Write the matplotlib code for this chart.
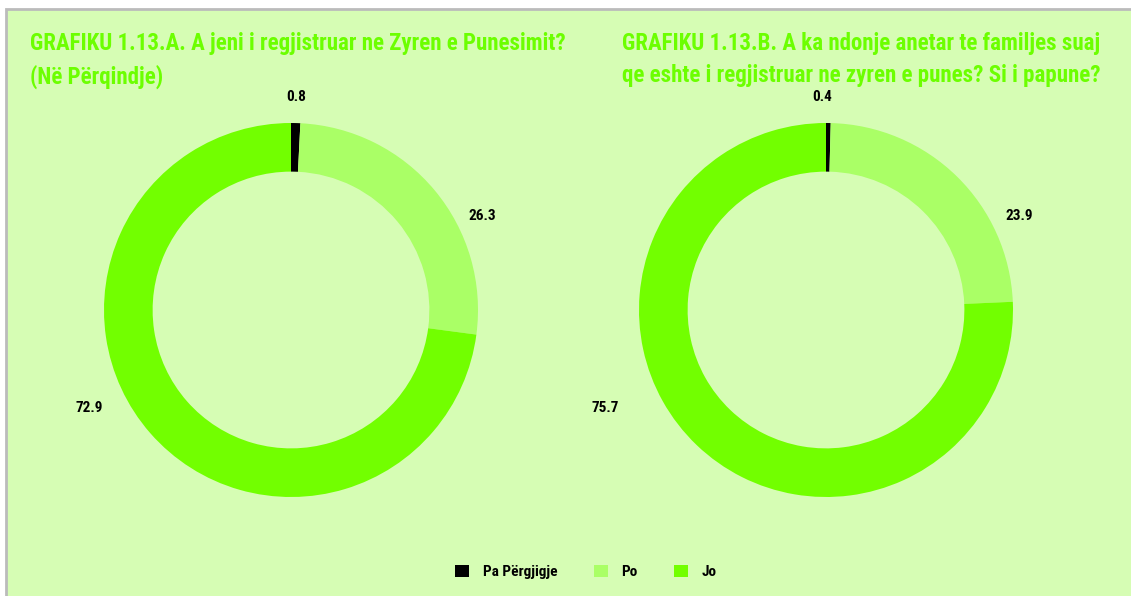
import numpy as np
import matplotlib.pyplot as plt
from matplotlib.patches import Rectangle

# te dhenat
categories = ['Pa Përgjigje', 'Po', 'Jo']
colors = ['#000000', '#AAFF66', '#72FF00']
values_a = [0.8, 26.3, 72.9]
values_b = [0.4, 23.9, 75.7]
title_a = 'GRAFIKU 1.13.A. A jeni i regjistruar ne Zyren e Punesimit?\n(Në Përqindje)'
title_b = 'GRAFIKU 1.13.B. A ka ndonje anetar te familjes suaj\nqe eshte i regjistruar ne zyren e punes? Si i papune?'

# kendet e etiketave (si ne Excel)
label_ang_a = [88.5, 26.3, -154.2]
label_rad_a = [1.14, 1.14, 1.20]
label_ang_b = [91.0, 26.0, -156.0]
label_rad_b = [1.14, 1.15, 1.29]

font = ['Roboto Condensed', 'DejaVu Sans']
bg = '#D6FDB4'
W, H = 1131, 596

fig = plt.figure(figsize=(W / 100, H / 100), dpi=100)
fig.patch.set_facecolor('white')
fig.patches.append(Rectangle((6 / W, -0.05), 1.1, (H - 9) / H + 0.05, transform=fig.transFigure,
                             facecolor=bg, edgecolor='#BBBBBB', linewidth=2, zorder=-10))

R = 187.0      # rrezja ne piksel
half = 250.0


def donut(cx, cy, values, ang, rad):
    ax = fig.add_axes([(cx - half) / W, (H - cy - half) / H, 2 * half / W, 2 * half / H])
    ax.set_facecolor('none')
    wedges, _ = ax.pie(values, colors=colors, startangle=90, counterclock=False, radius=1.0,
                       wedgeprops=dict(width=0.26, linewidth=0))
    lim = half / R
    ax.set_xlim(-lim, lim)
    ax.set_ylim(-lim, lim)
    ax.set_aspect('equal')
    ax.axis('off')
    for v, a, r in zip(values, ang, rad):
        t = np.deg2rad(a)
        ax.text(r * np.cos(t), r * np.sin(t), f'{v:.1f}', ha='center', va='center',
                family=font, fontweight='bold', fontsize=11, color='black')
    return wedges


wedges = donut(291, 310, values_a, label_ang_a, label_rad_a)
donut(826, 310, values_b, label_ang_b, label_rad_b)

fig.text(30 / W, 1 - 32 / H, title_a, ha='left', va='top', family=font, fontweight='bold',
         fontsize=16.5, color='#6CFF00', linespacing=1.5)
fig.text(622 / W, 1 - 32 / H, title_b, ha='left', va='top', family=font, fontweight='bold',
         fontsize=16.5, color='#6CFF00', linespacing=1.5)

fig.legend(wedges, categories, loc='center', bbox_to_anchor=(586 / W, 1 - 572 / H), ncol=3,
           frameon=False, handlelength=0.9, handleheight=0.9, handletextpad=0.9,
           columnspacing=2.4, prop=dict(family=font, weight='bold', size=11))

fig.savefig('out.png', dpi=100, facecolor=fig.get_facecolor())
